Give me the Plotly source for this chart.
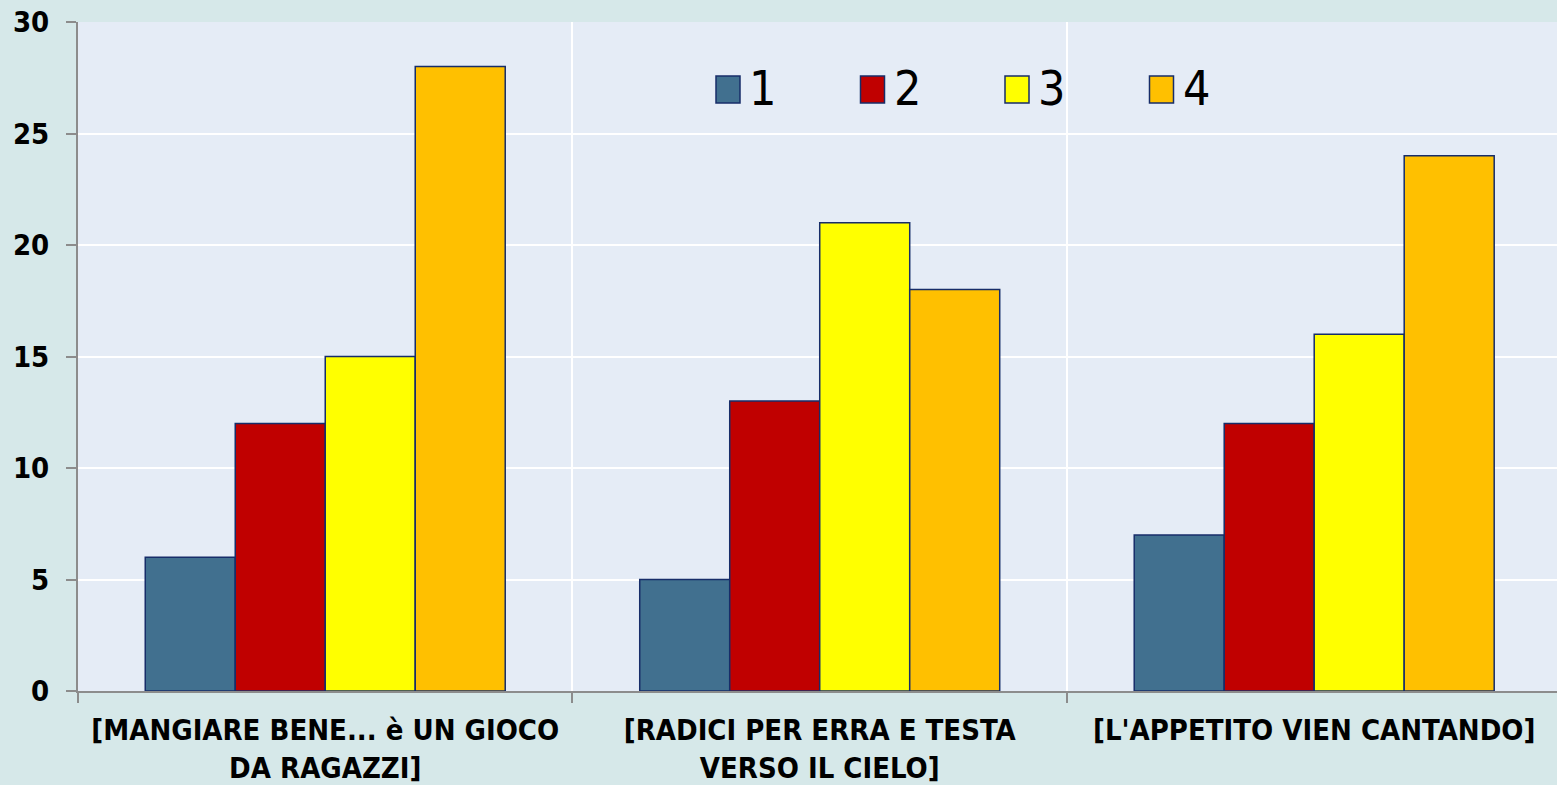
import plotly.graph_objects as go

categories = [
    "[MANGIARE BENE... è UN GIOCO<br>DA RAGAZZI]",
    "[RADICI PER ERRA E TESTA<br>VERSO IL CIELO]",
    "[L'APPETITO VIEN CANTANDO]",
]
series_names = ["1", "2", "3", "4"]
values_1 = [6, 5, 7]
values_2 = [12, 13, 12]
values_3 = [15, 21, 16]
values_4 = [28, 18, 24]
colors = ["#41708f", "#c00000", "#ffff00", "#ffc000"]

FONT = "DejaVu Sans Condensed, Liberation Sans Narrow, DejaVu Sans, sans-serif"
OUTLINE = "#172d69"

fig = go.Figure()
for name, vals, col in zip(series_names, [values_1, values_2, values_3, values_4], colors):
    fig.add_trace(
        go.Bar(
            x=categories,
            y=vals,
            name=name,
            marker=dict(color=col, line=dict(color=OUTLINE, width=1.5)),
            showlegend=False,
        )
    )

# Hand-made legend (plotly's bar swatches are too small)
plot_l, plot_r, plot_t, plot_b = 78, 1557, 22, 691
pw, ph = plot_r - plot_l, plot_b - plot_t
for i, (name, col) in enumerate(zip(series_names, colors)):
    sx0 = 716 + i * 144.5
    fig.add_shape(
        type="rect", xref="paper", yref="paper",
        x0=(sx0 - plot_l) / pw, x1=(sx0 + 24 - plot_l) / pw,
        y0=(plot_b - 103) / ph, y1=(plot_b - 76) / ph,
        fillcolor=col, line=dict(color=OUTLINE, width=1.5),
    )
    fig.add_annotation(
        xref="paper", yref="paper",
        x=(sx0 + 31 - plot_l) / pw, y=(plot_b - 88) / ph,
        text=name, showarrow=False, xanchor="left", yanchor="middle",
        font=dict(family=FONT, size=48, color="black"),
    )

fig.update_layout(
    width=1557,
    height=785,
    barmode="group",
    bargap=0.272,
    bargroupgap=0,
    paper_bgcolor="#d6e8e9",
    plot_bgcolor="#e5ecf6",
    margin=dict(l=78, r=0, t=22, b=94),
    font=dict(family=FONT, size=29, color="black"),
    showlegend=False,
    xaxis=dict(
        type="category",
        range=[-0.5, 2.491],  # right edge of the last category is cut off
        tickson="boundaries",
        showgrid=True,
        gridcolor="white",
        gridwidth=2,
        ticks="outside",
        ticklen=10,
        tickcolor="#8c8c8c",
        tickwidth=2,
        showline=True,
        linecolor="#8c8c8c",
        linewidth=2,
        ticklabelstandoff=12,
        tickfont=dict(family=FONT, size=29, color="black", weight="bold"),
    ),
    yaxis=dict(
        range=[0, 30],
        dtick=5,
        showgrid=True,
        gridcolor="white",
        gridwidth=2,
        zeroline=False,
        ticks="outside",
        ticklen=10,
        tickcolor="#8c8c8c",
        tickwidth=2,
        showline=True,
        linecolor="#8c8c8c",
        linewidth=2,
        ticklabelstandoff=11,
        tickfont=dict(family=FONT, size=29, color="black", weight="bold"),
    ),
)

fig.write_html(
    "out.html",
    config={"displayModeBar": False},
    post_script="document.body.style.margin='0';",
)
